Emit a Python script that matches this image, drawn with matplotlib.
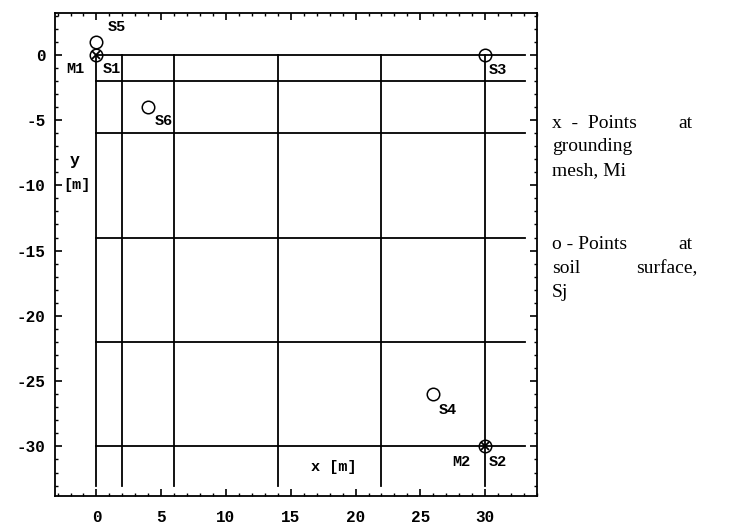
import matplotlib.pyplot as plt
from matplotlib.ticker import MultipleLocator

# grid conductors of the grounding mesh
grid_x = [0, 2, 6, 14, 22, 30]
grid_y = [0, -2, -6, -14, -22, -30]

# points at grounding mesh (Mi)
mesh_names = ["M1", "M2"]
mesh_x = [0, 30]
mesh_y = [0, -30]

# points at soil surface (Sj)
soil_names = ["S1", "S2", "S3", "S4", "S5", "S6"]
soil_x = [0, 30, 30, 26, 0, 4]
soil_y = [0, -30, 0, -26, 1, -4]

plt.rcParams["font.family"] = ["Liberation Mono", "DejaVu Sans Mono"]
plt.rcParams["font.weight"] = "bold"

fig = plt.figure(figsize=(7.37, 5.25), dpi=100)
ax = fig.add_axes([0.0746, 0.0552, 0.654, 0.92])

for gy in grid_y:
  ax.plot([0, 33.1], [gy, gy], color="black", lw=1.3)
for gx in grid_x:
  ax.plot([gx, gx], [0, -33.0], color="black", lw=1.3)

ax.plot(soil_x, soil_y, "o", mfc="none", mec="black", ms=9, mew=1.1)
ax.plot(mesh_x, mesh_y, "x", color="black", ms=6, mew=1.3)

# label offsets next to the points
offs = {"S1": (1.2, -1.1), "S2": (1.0, -1.2), "S3": (1.0, -1.2),
        "S4": (1.1, -1.2), "S5": (1.6, 1.1), "S6": (1.2, -1.1),
        "M1": (-1.6, -1.1), "M2": (-1.8, -1.2)}
for n, x, y in zip(soil_names + mesh_names, soil_x + mesh_x, soil_y + mesh_y):
  dx, dy = offs[n]
  ax.text(x + dx, y + dy, n, ha="center", va="center", fontsize=11)

ax.text(-1.7, -8.1, "y", ha="center", va="center", fontsize=12)
ax.text(-1.5, -10.0, "[m]", ha="center", va="center", fontsize=11)
ax.text(18.3, -31.6, "x [m]", ha="center", va="center", fontsize=11)

ax.set_xlim(-3.2, 34)
ax.set_ylim(-33.8, 3.2)
ax.xaxis.set_minor_locator(MultipleLocator(1))
ax.yaxis.set_minor_locator(MultipleLocator(1))
ax.tick_params(which="both", direction="in", top=True, right=True, labelsize=11.5)
ax.tick_params(which="major", length=5, width=1.2)
ax.tick_params(axis="x", which="major", pad=10)
ax.tick_params(axis="y", which="major", pad=7)
ax.tick_params(which="minor", length=2.5, width=1)
for s in ax.spines.values():
  s.set_linewidth(1.3)
xt = list(range(0, 31, 5))
yt = list(range(0, -31, -5))
ax.set_xticks(xt)
ax.set_yticks(yt)
ax.set_yticklabels([str(v) for v in yt])

# legend text on the right (justified lines)
lg = dict(fontsize=14, family="Liberation Serif", fontweight="normal")
x0, x1 = 0.749, 0.940
fig.text(x0, 0.757, "x  -  Points", **lg)
fig.text(x1, 0.757, "at", ha="right", **lg)
fig.text(x0, 0.712, "grounding", **lg)
fig.text(x0, 0.666, "mesh, Mi", **lg)
fig.text(x0, 0.526, "o - Points", **lg)
fig.text(x1, 0.526, "at", ha="right", **lg)
fig.text(x0, 0.480, "soil", **lg)
fig.text(x1 + 0.006, 0.480, "surface,", ha="right", **lg)
fig.text(x0, 0.434, "Sj", **lg)

fig.savefig("out.png", dpi=100)
